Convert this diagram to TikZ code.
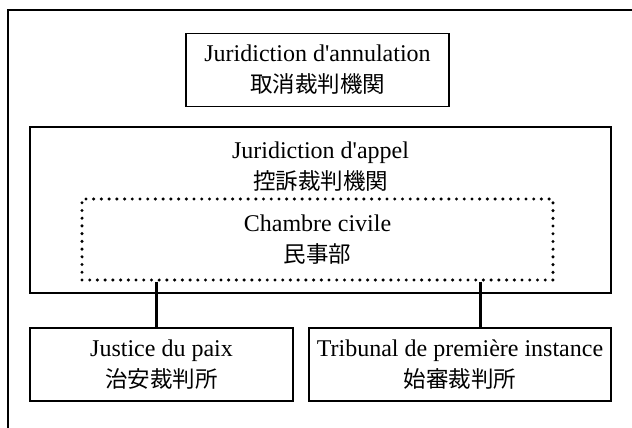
\documentclass[tikz,border=0pt]{standalone}
\usepackage{fontspec}
\setmainfont{Liberation Serif}[Ligatures=TeXOff]
\newfontfamily\cjk{Noto Sans CJK JP}
\newcommand\jp[1]{{\cjk\fontsize{22.5}{31}\selectfont #1}}
\begin{document}
\begin{tikzpicture}[x=1pt,y=-1pt,
  box/.style={draw, line width=1.6pt, rectangle, inner sep=0pt, align=center,
    font=\fontsize{24}{31}\selectfont},
  dotbox/.style={draw, line width=3.4pt, line cap=round, dash pattern=on 0pt off 7.72pt,
    rectangle, inner sep=0pt, align=center, font=\fontsize{24}{31}\selectfont},
  txt/.style={inner sep=0pt, align=center, font=\fontsize{24}{31}\selectfont},
  link/.style={line width=2.2pt}]
\useasboundingbox (0,0) rectangle (632,428);
\begin{scope}
\clip (0,0) rectangle (632,428);
\coordinate (fbl) at (8,440);
\coordinate (ftl) at (8,10);
\coordinate (ftr) at (645,10);
\draw[line width=1.7pt] (fbl) -- (ftl) -- (ftr);
\end{scope}
\node[box, minimum width=263pt, minimum height=73pt] (annul) at (317.5,70)
  {Juridiction d'annulation\\\jp{取消裁判機関}};
\node[box, minimum width=581pt, minimum height=166pt] (appel) at (320.5,210) {};
\node[txt] (appeltext) at (320.5,167) {Juridiction d'appel\\\jp{控訴裁判機関}};
\node[dotbox, minimum width=471pt, minimum height=81pt] (civ) at (317.5,239.5)
  {Chambre civile\\\jp{民事部}};
\node[box, minimum width=263pt, minimum height=73pt] (paix) at (161.5,364.5)
  {Justice du paix\\\jp{治安裁判所}};
\node[box, minimum width=302pt, minimum height=73pt] (trib) at (460,364.5)
  {Tribunal de première instance\\\jp{始審裁判所}};
\coordinate (x1) at (156.5,0);
\coordinate (x2) at (480.5,0);
\draw[link] (civ.south -| x1) -- (paix.north -| x1);
\draw[link] (civ.south -| x2) -- (trib.north -| x2);
\end{tikzpicture}
\end{document}
